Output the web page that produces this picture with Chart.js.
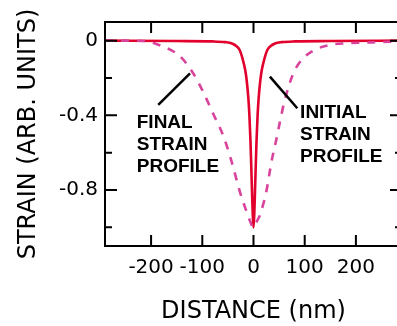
<!DOCTYPE html>
<html>
<head>
<meta charset="utf-8">
<script src="https://cdn.jsdelivr.net/npm/chart.js@4"></script>
<style>
  html, body { margin: 0; padding: 0; background: #fff; overflow: hidden; }
  #strain-chart { position: absolute; left: 0; top: 0; }
</style>
</head>
<body>
<canvas id="strain-chart" width="410" height="326"></canvas>
<script>
//
// Strain profile chart
//

// Data (distance in nm, strain in arb. units)
var initialDistance = [-290, -150, -80, -55, -42, -33, -27, -21, -16, -13, -10, -8, -6, -4.5, -3, -1.5, 0,
	1.5, 3, 4.5, 6, 8, 10, 13, 16, 21, 27, 33, 42, 55, 80, 150, 290];
var initialStrain = [0, -0.002, -0.004, -0.008, -0.015, -0.03, -0.05, -0.10, -0.16, -0.22, -0.31, -0.40, -0.53, -0.66, -0.80, -0.93, -1.0,
	-0.93, -0.80, -0.66, -0.53, -0.40, -0.31, -0.22, -0.16, -0.10, -0.05, -0.03, -0.015, -0.008, -0.004, -0.002, 0];

var finalDistance = [-290, -250, -214, -178, -145, -120, -100, -79, -59, -43, -26, -13, -7, 0,
	7, 12.5, 25.6, 35, 43, 52, 60, 77, 95, 117, 150, 183, 215, 248, 290];
var finalStrain = [0, 0, -0.002, -0.03, -0.08, -0.165, -0.265, -0.39, -0.51, -0.645, -0.815, -0.92, -0.965, -1.0,
	-0.965, -0.935, -0.80, -0.65, -0.55, -0.43, -0.33, -0.18, -0.10, -0.053, -0.022, -0.014, -0.01, -0.008, -0.003];

var xTicks = [-200, -100, 0, 100, 200];
var yTicks = [-1.0, -0.8, -0.6, -0.4, -0.2, 0];
var yTickLabels = { '0': '0', '-0.4': '-0.4', '-0.8': '-0.8' };

var StrainChart = (function() {

	//
	// Variables
	//

	var $chart = document.getElementById('strain-chart');
	var titleFont = 'DejaVu Sans';
	var noteFont = '"Liberation Sans", Arial, sans-serif';

	// Annotations in data units
	var notes = [
		{ lines: ['FINAL', 'STRAIN', 'PROFILE'], x: -228, y: -0.469, from: [-186, -0.344], to: [-124, -0.175] },
		{ lines: ['INITIAL', 'STRAIN', 'PROFILE'], x: 91, y: -0.416, from: [32, -0.193], to: [85.5, -0.362] }
	];


	//
	// Methods
	//

	function toPoints(xs, ys) {
		return xs.map(function(x, i) { return { x: x, y: ys[i] }; });
	}

	// Box with inward ticks, plus text notes
	var framePlugin = {
		id: 'frame',
		afterDatasetsDraw: function(chart) {
			var ctx = chart.ctx;
			var area = chart.chartArea;
			var xs = chart.scales.x;
			var ys = chart.scales.y;

			ctx.save();
			ctx.strokeStyle = '#000';
			ctx.lineWidth = 2;
			ctx.strokeRect(area.left, area.top, area.right - area.left, area.bottom - area.top);

			ctx.beginPath();
			xTicks.forEach(function(v) {
				var px = xs.getPixelForValue(v);
				ctx.moveTo(px, area.bottom); ctx.lineTo(px, area.bottom - 11);
				ctx.moveTo(px, area.top); ctx.lineTo(px, area.top + 11);
			});
			yTicks.forEach(function(v) {
				var py = ys.getPixelForValue(v);
				var len = yTickLabels[String(v)] !== undefined ? 12 : 7;
				ctx.moveTo(area.left, py); ctx.lineTo(area.left + len, py);
				ctx.moveTo(area.right, py); ctx.lineTo(area.right - len, py);
			});
			ctx.stroke();

			// Notes
			ctx.fillStyle = '#000';
			ctx.font = 'bold 19px ' + noteFont;
			ctx.textBaseline = 'alphabetic';
			ctx.textAlign = 'left';
			notes.forEach(function(n) {
				var px = xs.getPixelForValue(n.x);
				var py = ys.getPixelForValue(n.y);
				n.lines.forEach(function(t, i) {
					ctx.fillText(t, px, py + i * 21.7);
				});
				ctx.beginPath();
				ctx.lineWidth = 2.5;
				ctx.moveTo(xs.getPixelForValue(n.from[0]), ys.getPixelForValue(n.from[1]));
				ctx.lineTo(xs.getPixelForValue(n.to[0]), ys.getPixelForValue(n.to[1]));
				ctx.stroke();
			});
			ctx.restore();
		}
	};

	// Init chart
	function initChart($chart) {

		// Create chart
		var strainChart = new Chart($chart, {
			type: 'line',
			data: {
				datasets: [{
					label: 'Final strain profile',
					data: toPoints(finalDistance, finalStrain),
					borderColor: '#d8439b',
					borderWidth: 2.6,
					borderDash: [8, 8],
					pointRadius: 0,
					fill: false,
					cubicInterpolationMode: 'monotone'
				}, {
					label: 'Initial strain profile',
					data: toPoints(initialDistance, initialStrain),
					borderColor: '#e2002c',
					borderWidth: 2.6,
					pointRadius: 0,
					fill: false,
					cubicInterpolationMode: 'monotone'
				}]
			},
			options: {
				responsive: false,
				animation: false,
				layout: { padding: { top: 22, right: 8, left: 0, bottom: 0 } },
				plugins: { legend: { display: false }, tooltip: { enabled: false } },
				scales: {
					x: {
						type: 'linear',
						min: -290,
						max: 290,
						grid: { display: false, drawTicks: false },
						border: { display: false },
						afterBuildTicks: function(scale) {
							scale.ticks = xTicks.map(function(v) { return { value: v }; });
						},
						afterFit: function(scale) { scale.height = 80; },
						ticks: {
							color: '#000',
							padding: 10,
							maxRotation: 0,
							font: { family: titleFont, size: 20 }
						},
						title: {
							display: true,
							text: 'DISTANCE (nm)',
							color: '#000',
							font: { family: titleFont, size: 24 },
							padding: { top: 0, bottom: 0 }
						}
					},
					y: {
						type: 'linear',
						min: -1.1,
						max: 0.1,
						grid: { display: false, drawTicks: false },
						border: { display: false },
						afterBuildTicks: function(scale) {
							scale.ticks = yTicks.map(function(v) { return { value: v }; });
						},
						afterFit: function(scale) { scale.width = 105; },
						ticks: {
							color: '#000',
							padding: 7,
							font: { family: titleFont, size: 20 },
							callback: function(value) {
								var key = String(Math.round(value * 10) / 10);
								return yTickLabels[key] || '';
							}
						},
						title: {
							display: true,
							text: 'STRAIN (ARB. UNITS)',
							color: '#000',
							font: { family: titleFont, size: 24 },
							padding: { top: 14, bottom: 0 }
						}
					}
				}
			},
			plugins: [framePlugin]
		});

		return strainChart;
	}


	// Init chart
	if ($chart) {
		initChart($chart);
	}

})();
</script>
</body>
</html>
